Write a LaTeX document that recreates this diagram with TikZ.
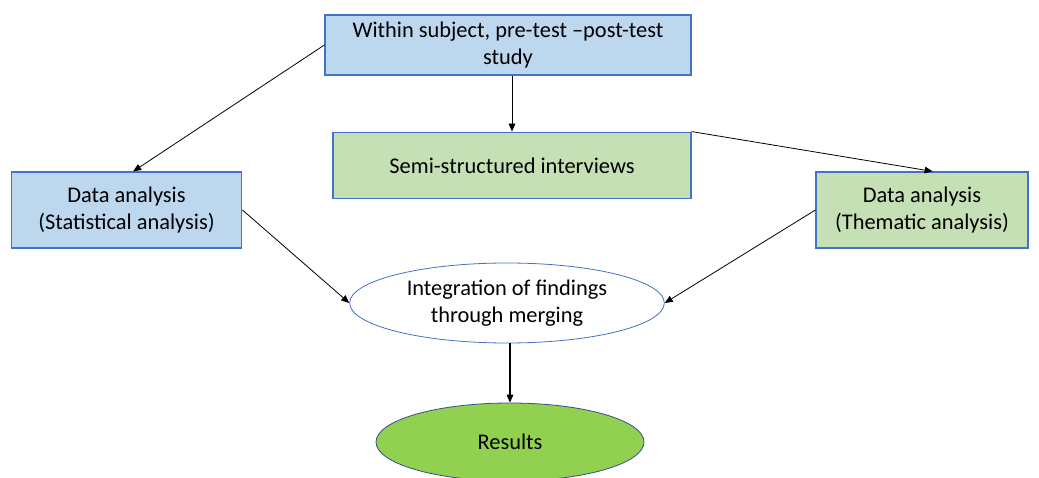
\documentclass[tikz,border=0pt]{standalone}
\usepackage{fontspec}
\setmainfont{Carlito}
\usepackage{tikz}
\usetikzlibrary{arrows.meta,shapes.geometric}
\definecolor{boxblue}{RGB}{189,215,238}
\definecolor{boxgreen}{RGB}{197,224,180}
\definecolor{edgeblue}{RGB}{68,114,196}
\definecolor{resgreen}{RGB}{146,208,80}
\definecolor{resedge}{RGB}{47,82,143}

\begin{document}
\begin{tikzpicture}[x=0.75pt,y=-0.75pt,font=\fontsize{16.8}{20.5}\selectfont,
  >={Triangle[length=6pt,width=5pt]},
  stagebox/.style={draw=edgeblue,line width=0.9pt,rectangle,align=center,inner sep=0pt},
  link/.style={->,semithick}]
\useasboundingbox (0,0) rectangle (1039,478);
\node[stagebox,fill=boxblue,minimum width=274.5pt,minimum height=45pt] (design) at (508,45) {Within subject, pre-test --post-test\\study};
\node[stagebox,fill=boxgreen,minimum width=268.5pt,minimum height=50pt] (interv) at (512,165.5) {Semi-structured interviews};
\node[stagebox,fill=boxblue,minimum width=173pt,minimum height=57pt] (stat) at (126.5,210) {Data analysis\\(Statistical analysis)};
\node[stagebox,fill=boxgreen,minimum width=159pt,minimum height=57pt] (theme) at (922,210) {Data analysis\\(Thematic analysis)};
\node[ellipse,draw=edgeblue,semithick,fill=white,align=center,inner sep=0pt,minimum width=236pt,minimum height=60pt] (merge) at (507,303) {Integration of findings\\through merging};
\node[ellipse,draw=resedge,semithick,fill=resgreen,inner sep=0pt,minimum width=201pt,minimum height=58.5pt] (result) at (510,442) {Results};
\draw[link] (design.west) -- ([xshift=5pt]stat.north);
\draw[link] (design.south -| interv.north) -- (interv.north);
\draw[link] (interv.north east) -- ([xshift=8pt]theme.north);
\draw[link] (stat.east) -- (merge.west);
\draw[link] (theme.west) -- (merge.east);
\draw[->,thick] (merge.south -| result.north) -- (result.north);
\end{tikzpicture}
\end{document}
